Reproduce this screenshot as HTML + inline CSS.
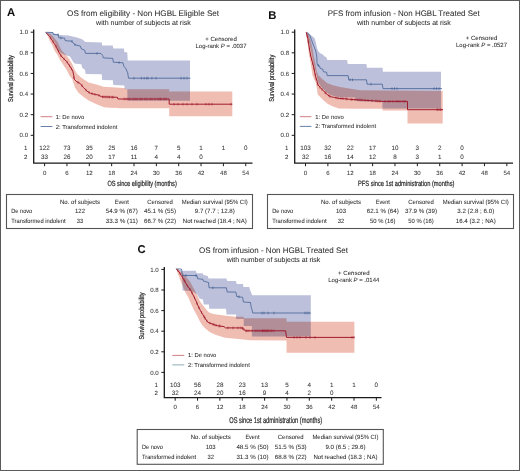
<!DOCTYPE html>
<html><head><meta charset="utf-8"><style>
html,body{margin:0;padding:0;background:#fff;}
body{width:520px;height:471px;overflow:hidden;}
svg{display:block;font-family:"Liberation Sans", sans-serif;text-rendering:geometricPrecision;}
</style></head><body>
<svg width="520" height="471" viewBox="0 0 520 471">
<rect x="0" y="0" width="520" height="471" fill="#fff"/>
<text x="6.90" y="15.60" font-size="11.3" text-anchor="start" font-weight="bold" fill="#111" stroke="#111" stroke-width="0.04" style="">A</text>
<text x="143.10" y="16.00" font-size="8.1" text-anchor="middle" font-weight="normal" fill="#2a2a2a" textLength="152" lengthAdjust="spacingAndGlyphs" stroke="#2a2a2a" stroke-width="0.04" style="">OS from eligibility - Non HGBL Eligible Set</text>
<text x="143.40" y="25.00" font-size="7.0" text-anchor="middle" font-weight="normal" fill="#2a2a2a" textLength="94.7" lengthAdjust="spacingAndGlyphs" stroke="#2a2a2a" stroke-width="0.04" style="">with number of subjects at risk</text>
<text x="221.00" y="40.90" font-size="6.1" text-anchor="middle" font-weight="normal" fill="#2a2a2a" textLength="31.6" lengthAdjust="spacingAndGlyphs" stroke="#2a2a2a" stroke-width="0.04" style="">+ Censored</text>
<text x="221.00" y="47.90" font-size="6.0" text-anchor="middle" font-weight="normal" fill="#2a2a2a" textLength="51" lengthAdjust="spacingAndGlyphs" stroke="#2a2a2a" stroke-width="0.04" style="">Log-rank <tspan font-style="italic">P</tspan> = .0037</text>
<g style="isolation:isolate">
<polygon points="45.60,32.30 52.90,32.30 53.40,33.30 60.00,35.10 68.50,35.50 72.70,36.40 77.00,37.60 82.10,39.30 85.50,41.90 101.80,42.60 102.20,45.60 112.80,45.60 113.30,48.60 123.90,48.60 124.30,52.00 127.30,52.40 127.70,60.50 190.00,60.50 190.00,100.80 127.50,100.80 127.30,89.20 124.70,88.80 124.30,85.40 113.30,85.00 112.80,80.30 102.20,79.90 101.80,74.30 85.60,73.90 85.10,69.90 82.20,67.70 81.30,64.30 74.50,63.50 72.00,60.10 70.00,56.50 65.20,55.00 61.00,53.00 57.70,49.90 54.70,42.20 50.00,36.00 45.60,32.30" fill="#bcc0da" style="mix-blend-mode:multiply"/>
<polygon points="45.90,32.50 50.40,33.80 53.60,37.00 57.70,42.20 61.30,49.90 64.00,53.00 66.00,55.00 69.40,59.20 72.00,63.50 74.50,69.40 77.10,73.70 80.50,77.10 83.90,79.60 88.70,82.60 95.50,84.30 99.70,85.60 103.50,86.70 123.90,87.90 127.30,89.20 169.20,89.20 169.20,91.40 232.30,91.40 232.30,116.20 169.20,116.20 169.20,108.20 119.00,108.20 119.00,107.90 110.00,107.70 104.00,107.30 99.70,105.60 93.80,103.00 88.70,100.50 83.60,97.10 78.50,92.80 75.10,87.70 73.00,81.80 72.30,79.00 69.40,75.40 66.90,70.30 63.50,65.20 60.10,60.10 57.50,55.00 54.50,50.50 52.90,46.60 50.40,42.10 47.80,36.40 45.90,32.50" fill="#f0bdb2" style="mix-blend-mode:multiply"/>
</g>
<polyline points="45.60,32.30 52.90,32.50 53.40,34.50 58.30,34.70 58.80,37.80 64.50,38.10 65.30,40.70 71.90,41.20 72.50,42.00 73.60,43.60 75.30,44.90 80.40,46.10 81.20,48.70 84.60,50.20 85.50,53.40 100.90,53.40 102.60,55.40 103.50,57.90 112.80,58.40 113.30,62.20 123.00,62.80 123.90,66.40 125.60,68.10 127.70,72.80 128.50,78.20 190.50,78.20" fill="none" stroke="#34558c" stroke-width="0.7"/>
<polyline points="45.90,32.50 49.50,36.40 52.50,40.80 54.50,44.00 56.50,47.50 57.70,50.00 59.20,52.50 60.50,55.00 62.00,57.00 63.50,58.40 66.90,61.80 70.30,66.90 72.80,71.10 73.70,75.40 74.20,79.20 76.80,81.80 80.20,83.50 83.60,87.70 87.00,91.10 90.40,93.30 95.50,94.50 98.40,95.10 101.80,96.80 117.50,97.30 117.90,99.00 169.20,99.00 169.20,104.20 232.30,104.20" fill="none" stroke="#a01a2e" stroke-width="1.0"/>
<line x1="141.30" y1="76.90" x2="141.30" y2="79.50" stroke="#34558c" stroke-width="0.6"/>
<line x1="144.20" y1="76.90" x2="144.20" y2="79.50" stroke="#34558c" stroke-width="0.6"/>
<line x1="146.70" y1="76.90" x2="146.70" y2="79.50" stroke="#34558c" stroke-width="0.6"/>
<line x1="151.90" y1="76.90" x2="151.90" y2="79.50" stroke="#34558c" stroke-width="0.6"/>
<line x1="181.00" y1="76.90" x2="181.00" y2="79.50" stroke="#34558c" stroke-width="0.6"/>
<line x1="184.00" y1="76.90" x2="184.00" y2="79.50" stroke="#34558c" stroke-width="0.6"/>
<line x1="187.00" y1="76.90" x2="187.00" y2="79.50" stroke="#34558c" stroke-width="0.6"/>
<line x1="97.00" y1="52.10" x2="97.00" y2="54.70" stroke="#34558c" stroke-width="0.6"/>
<line x1="58.00" y1="33.39" x2="58.00" y2="35.99" stroke="#34558c" stroke-width="0.6"/>
<line x1="75.00" y1="43.37" x2="75.00" y2="45.97" stroke="#34558c" stroke-width="0.6"/>
<line x1="119.00" y1="61.25" x2="119.00" y2="63.85" stroke="#34558c" stroke-width="0.6"/>
<line x1="104.00" y1="95.57" x2="104.00" y2="98.17" stroke="#a01a2e" stroke-width="0.6"/>
<line x1="108.00" y1="95.70" x2="108.00" y2="98.30" stroke="#a01a2e" stroke-width="0.6"/>
<line x1="112.00" y1="95.82" x2="112.00" y2="98.42" stroke="#a01a2e" stroke-width="0.6"/>
<line x1="124.00" y1="97.70" x2="124.00" y2="100.30" stroke="#a01a2e" stroke-width="0.6"/>
<line x1="130.00" y1="97.70" x2="130.00" y2="100.30" stroke="#a01a2e" stroke-width="0.6"/>
<line x1="140.00" y1="97.70" x2="140.00" y2="100.30" stroke="#a01a2e" stroke-width="0.6"/>
<line x1="145.00" y1="97.70" x2="145.00" y2="100.30" stroke="#a01a2e" stroke-width="0.6"/>
<line x1="150.00" y1="97.70" x2="150.00" y2="100.30" stroke="#a01a2e" stroke-width="0.6"/>
<line x1="155.00" y1="97.70" x2="155.00" y2="100.30" stroke="#a01a2e" stroke-width="0.6"/>
<line x1="160.00" y1="97.70" x2="160.00" y2="100.30" stroke="#a01a2e" stroke-width="0.6"/>
<line x1="164.00" y1="97.70" x2="164.00" y2="100.30" stroke="#a01a2e" stroke-width="0.6"/>
<line x1="183.00" y1="102.90" x2="183.00" y2="105.50" stroke="#a01a2e" stroke-width="0.6"/>
<line x1="187.00" y1="102.90" x2="187.00" y2="105.50" stroke="#a01a2e" stroke-width="0.6"/>
<line x1="192.00" y1="102.90" x2="192.00" y2="105.50" stroke="#a01a2e" stroke-width="0.6"/>
<line x1="197.00" y1="102.90" x2="197.00" y2="105.50" stroke="#a01a2e" stroke-width="0.6"/>
<line x1="231.00" y1="102.90" x2="231.00" y2="105.50" stroke="#a01a2e" stroke-width="0.6"/>
<line x1="50.50" y1="36.57" x2="50.50" y2="39.17" stroke="#a01a2e" stroke-width="0.6"/>
<line x1="53.00" y1="40.30" x2="53.00" y2="42.90" stroke="#a01a2e" stroke-width="0.6"/>
<line x1="56.00" y1="45.33" x2="56.00" y2="47.92" stroke="#a01a2e" stroke-width="0.6"/>
<line x1="58.50" y1="50.03" x2="58.50" y2="52.63" stroke="#a01a2e" stroke-width="0.6"/>
<line x1="61.00" y1="54.37" x2="61.00" y2="56.97" stroke="#a01a2e" stroke-width="0.6"/>
<line x1="64.00" y1="57.60" x2="64.00" y2="60.20" stroke="#a01a2e" stroke-width="0.6"/>
<line x1="67.00" y1="60.65" x2="67.00" y2="63.25" stroke="#a01a2e" stroke-width="0.6"/>
<line x1="69.50" y1="64.40" x2="69.50" y2="67.00" stroke="#a01a2e" stroke-width="0.6"/>
<line x1="71.50" y1="67.62" x2="71.50" y2="70.22" stroke="#a01a2e" stroke-width="0.6"/>
<line x1="74.00" y1="76.38" x2="74.00" y2="78.98" stroke="#a01a2e" stroke-width="0.6"/>
<line x1="78.00" y1="81.10" x2="78.00" y2="83.70" stroke="#a01a2e" stroke-width="0.6"/>
<line x1="82.00" y1="84.42" x2="82.00" y2="87.02" stroke="#a01a2e" stroke-width="0.6"/>
<line x1="86.00" y1="88.80" x2="86.00" y2="91.40" stroke="#a01a2e" stroke-width="0.6"/>
<line x1="89.00" y1="91.09" x2="89.00" y2="93.69" stroke="#a01a2e" stroke-width="0.6"/>
<line x1="92.00" y1="92.38" x2="92.00" y2="94.98" stroke="#a01a2e" stroke-width="0.6"/>
<line x1="95.00" y1="93.08" x2="95.00" y2="95.68" stroke="#a01a2e" stroke-width="0.6"/>
<line x1="99.00" y1="94.10" x2="99.00" y2="96.70" stroke="#a01a2e" stroke-width="0.6"/>
<line x1="102.50" y1="95.52" x2="102.50" y2="98.12" stroke="#a01a2e" stroke-width="0.6"/>
<line x1="106.00" y1="95.63" x2="106.00" y2="98.23" stroke="#a01a2e" stroke-width="0.6"/>
<line x1="109.50" y1="95.75" x2="109.50" y2="98.35" stroke="#a01a2e" stroke-width="0.6"/>
<line x1="113.00" y1="95.86" x2="113.00" y2="98.46" stroke="#a01a2e" stroke-width="0.6"/>
<line x1="126.00" y1="97.70" x2="126.00" y2="100.30" stroke="#a01a2e" stroke-width="0.6"/>
<line x1="128.00" y1="97.70" x2="128.00" y2="100.30" stroke="#a01a2e" stroke-width="0.6"/>
<line x1="133.00" y1="97.70" x2="133.00" y2="100.30" stroke="#a01a2e" stroke-width="0.6"/>
<line x1="135.00" y1="97.70" x2="135.00" y2="100.30" stroke="#a01a2e" stroke-width="0.6"/>
<line x1="137.00" y1="97.70" x2="137.00" y2="100.30" stroke="#a01a2e" stroke-width="0.6"/>
<line x1="142.00" y1="97.70" x2="142.00" y2="100.30" stroke="#a01a2e" stroke-width="0.6"/>
<line x1="147.00" y1="97.70" x2="147.00" y2="100.30" stroke="#a01a2e" stroke-width="0.6"/>
<line x1="152.00" y1="97.70" x2="152.00" y2="100.30" stroke="#a01a2e" stroke-width="0.6"/>
<line x1="158.00" y1="97.70" x2="158.00" y2="100.30" stroke="#a01a2e" stroke-width="0.6"/>
<line x1="161.00" y1="97.70" x2="161.00" y2="100.30" stroke="#a01a2e" stroke-width="0.6"/>
<line x1="166.00" y1="97.70" x2="166.00" y2="100.30" stroke="#a01a2e" stroke-width="0.6"/>
<line x1="174.00" y1="102.90" x2="174.00" y2="105.50" stroke="#a01a2e" stroke-width="0.6"/>
<line x1="178.00" y1="102.90" x2="178.00" y2="105.50" stroke="#a01a2e" stroke-width="0.6"/>
<line x1="206.00" y1="102.90" x2="206.00" y2="105.50" stroke="#a01a2e" stroke-width="0.6"/>
<line x1="209.00" y1="102.90" x2="209.00" y2="105.50" stroke="#a01a2e" stroke-width="0.6"/>
<line x1="212.00" y1="102.90" x2="212.00" y2="105.50" stroke="#a01a2e" stroke-width="0.6"/>
<line x1="61.00" y1="36.62" x2="61.00" y2="39.22" stroke="#34558c" stroke-width="0.6"/>
<line x1="72.00" y1="40.03" x2="72.00" y2="42.63" stroke="#34558c" stroke-width="0.6"/>
<line x1="134.00" y1="76.90" x2="134.00" y2="79.50" stroke="#34558c" stroke-width="0.6"/>
<line x1="148.00" y1="76.90" x2="148.00" y2="79.50" stroke="#34558c" stroke-width="0.6"/>
<line x1="156.00" y1="76.90" x2="156.00" y2="79.50" stroke="#34558c" stroke-width="0.6"/>
<path d="M33.70,29.50 V163.20 H252.50" fill="none" stroke="#1a1a1a" stroke-width="1.3"/>
<line x1="30.70" y1="32.20" x2="33.70" y2="32.20" stroke="#1a1a1a" stroke-width="1.0"/>
<text x="28.10" y="34.30" font-size="6.1" text-anchor="end" font-weight="normal" fill="#333" stroke="#333" stroke-width="0.04" style="">1.0</text>
<line x1="30.70" y1="52.82" x2="33.70" y2="52.82" stroke="#1a1a1a" stroke-width="1.0"/>
<text x="28.10" y="54.92" font-size="6.1" text-anchor="end" font-weight="normal" fill="#333" stroke="#333" stroke-width="0.04" style="">0.8</text>
<line x1="30.70" y1="73.44" x2="33.70" y2="73.44" stroke="#1a1a1a" stroke-width="1.0"/>
<text x="28.10" y="75.54" font-size="6.1" text-anchor="end" font-weight="normal" fill="#333" stroke="#333" stroke-width="0.04" style="">0.6</text>
<line x1="30.70" y1="94.06" x2="33.70" y2="94.06" stroke="#1a1a1a" stroke-width="1.0"/>
<text x="28.10" y="96.16" font-size="6.1" text-anchor="end" font-weight="normal" fill="#333" stroke="#333" stroke-width="0.04" style="">0.4</text>
<line x1="30.70" y1="114.68" x2="33.70" y2="114.68" stroke="#1a1a1a" stroke-width="1.0"/>
<text x="28.10" y="116.78" font-size="6.1" text-anchor="end" font-weight="normal" fill="#333" stroke="#333" stroke-width="0.04" style="">0.2</text>
<line x1="30.70" y1="135.30" x2="33.70" y2="135.30" stroke="#1a1a1a" stroke-width="1.0"/>
<text x="28.10" y="137.40" font-size="6.1" text-anchor="end" font-weight="normal" fill="#333" stroke="#333" stroke-width="0.04" style="">0.0</text>
<line x1="44.60" y1="163.20" x2="44.60" y2="166.20" stroke="#1a1a1a" stroke-width="1.0"/>
<text x="44.60" y="174.90" font-size="6.1" text-anchor="middle" font-weight="normal" fill="#333" stroke="#333" stroke-width="0.04" style="">0</text>
<line x1="66.95" y1="163.20" x2="66.95" y2="166.20" stroke="#1a1a1a" stroke-width="1.0"/>
<text x="66.95" y="174.90" font-size="6.1" text-anchor="middle" font-weight="normal" fill="#333" stroke="#333" stroke-width="0.04" style="">6</text>
<line x1="89.30" y1="163.20" x2="89.30" y2="166.20" stroke="#1a1a1a" stroke-width="1.0"/>
<text x="89.30" y="174.90" font-size="6.1" text-anchor="middle" font-weight="normal" fill="#333" stroke="#333" stroke-width="0.04" style="">12</text>
<line x1="111.65" y1="163.20" x2="111.65" y2="166.20" stroke="#1a1a1a" stroke-width="1.0"/>
<text x="111.65" y="174.90" font-size="6.1" text-anchor="middle" font-weight="normal" fill="#333" stroke="#333" stroke-width="0.04" style="">18</text>
<line x1="134.00" y1="163.20" x2="134.00" y2="166.20" stroke="#1a1a1a" stroke-width="1.0"/>
<text x="134.00" y="174.90" font-size="6.1" text-anchor="middle" font-weight="normal" fill="#333" stroke="#333" stroke-width="0.04" style="">24</text>
<line x1="156.35" y1="163.20" x2="156.35" y2="166.20" stroke="#1a1a1a" stroke-width="1.0"/>
<text x="156.35" y="174.90" font-size="6.1" text-anchor="middle" font-weight="normal" fill="#333" stroke="#333" stroke-width="0.04" style="">30</text>
<line x1="178.70" y1="163.20" x2="178.70" y2="166.20" stroke="#1a1a1a" stroke-width="1.0"/>
<text x="178.70" y="174.90" font-size="6.1" text-anchor="middle" font-weight="normal" fill="#333" stroke="#333" stroke-width="0.04" style="">36</text>
<line x1="201.05" y1="163.20" x2="201.05" y2="166.20" stroke="#1a1a1a" stroke-width="1.0"/>
<text x="201.05" y="174.90" font-size="6.1" text-anchor="middle" font-weight="normal" fill="#333" stroke="#333" stroke-width="0.04" style="">42</text>
<line x1="223.40" y1="163.20" x2="223.40" y2="166.20" stroke="#1a1a1a" stroke-width="1.0"/>
<text x="223.40" y="174.90" font-size="6.1" text-anchor="middle" font-weight="normal" fill="#333" stroke="#333" stroke-width="0.04" style="">48</text>
<line x1="245.75" y1="163.20" x2="245.75" y2="166.20" stroke="#1a1a1a" stroke-width="1.0"/>
<text x="245.75" y="174.90" font-size="6.1" text-anchor="middle" font-weight="normal" fill="#333" stroke="#333" stroke-width="0.04" style="">54</text>
<text x="142.10" y="186.20" font-size="7.6" text-anchor="middle" font-weight="normal" fill="#2a2a2a" textLength="69.4" lengthAdjust="spacingAndGlyphs" stroke="#2a2a2a" stroke-width="0.22" style="">OS since eligibility (months)</text>
<text x="0" y="0" font-size="7.2" text-anchor="middle" fill="#2a2a2a" stroke="#2a2a2a" stroke-width="0.22" textLength="47" lengthAdjust="spacingAndGlyphs" transform="translate(12.90,78.60) rotate(-90)">Survival probability</text>
<text x="25.70" y="149.80" font-size="6.1" text-anchor="middle" font-weight="normal" fill="#333" stroke="#333" stroke-width="0.04" style="">1</text>
<text x="44.60" y="149.80" font-size="6.3" text-anchor="middle" font-weight="normal" fill="#333" stroke="#333" stroke-width="0.04" style="">122</text>
<text x="66.95" y="149.80" font-size="6.3" text-anchor="middle" font-weight="normal" fill="#333" stroke="#333" stroke-width="0.04" style="">73</text>
<text x="89.30" y="149.80" font-size="6.3" text-anchor="middle" font-weight="normal" fill="#333" stroke="#333" stroke-width="0.04" style="">35</text>
<text x="111.65" y="149.80" font-size="6.3" text-anchor="middle" font-weight="normal" fill="#333" stroke="#333" stroke-width="0.04" style="">25</text>
<text x="134.00" y="149.80" font-size="6.3" text-anchor="middle" font-weight="normal" fill="#333" stroke="#333" stroke-width="0.04" style="">16</text>
<text x="156.35" y="149.80" font-size="6.3" text-anchor="middle" font-weight="normal" fill="#333" stroke="#333" stroke-width="0.04" style="">7</text>
<text x="178.70" y="149.80" font-size="6.3" text-anchor="middle" font-weight="normal" fill="#333" stroke="#333" stroke-width="0.04" style="">5</text>
<text x="201.05" y="149.80" font-size="6.3" text-anchor="middle" font-weight="normal" fill="#333" stroke="#333" stroke-width="0.04" style="">1</text>
<text x="223.40" y="149.80" font-size="6.3" text-anchor="middle" font-weight="normal" fill="#333" stroke="#333" stroke-width="0.04" style="">1</text>
<text x="245.75" y="149.80" font-size="6.3" text-anchor="middle" font-weight="normal" fill="#333" stroke="#333" stroke-width="0.04" style="">0</text>
<text x="25.70" y="159.10" font-size="6.1" text-anchor="middle" font-weight="normal" fill="#333" stroke="#333" stroke-width="0.04" style="">2</text>
<text x="44.60" y="159.10" font-size="6.3" text-anchor="middle" font-weight="normal" fill="#333" stroke="#333" stroke-width="0.04" style="">33</text>
<text x="66.95" y="159.10" font-size="6.3" text-anchor="middle" font-weight="normal" fill="#333" stroke="#333" stroke-width="0.04" style="">26</text>
<text x="89.30" y="159.10" font-size="6.3" text-anchor="middle" font-weight="normal" fill="#333" stroke="#333" stroke-width="0.04" style="">20</text>
<text x="111.65" y="159.10" font-size="6.3" text-anchor="middle" font-weight="normal" fill="#333" stroke="#333" stroke-width="0.04" style="">17</text>
<text x="134.00" y="159.10" font-size="6.3" text-anchor="middle" font-weight="normal" fill="#333" stroke="#333" stroke-width="0.04" style="">11</text>
<text x="156.35" y="159.10" font-size="6.3" text-anchor="middle" font-weight="normal" fill="#333" stroke="#333" stroke-width="0.04" style="">4</text>
<text x="178.70" y="159.10" font-size="6.3" text-anchor="middle" font-weight="normal" fill="#333" stroke="#333" stroke-width="0.04" style="">4</text>
<text x="201.05" y="159.10" font-size="6.3" text-anchor="middle" font-weight="normal" fill="#333" stroke="#333" stroke-width="0.04" style="">0</text>
<line x1="40.60" y1="116.70" x2="52.40" y2="116.70" stroke="#cc6f78" stroke-width="0.9"/>
<line x1="40.60" y1="126.50" x2="52.40" y2="126.50" stroke="#5672a0" stroke-width="0.9"/>
<text x="55.80" y="118.70" font-size="5.9" text-anchor="start" font-weight="normal" fill="#2a2a2a" stroke="#2a2a2a" stroke-width="0.04" style="">1: De novo</text>
<text x="55.80" y="128.50" font-size="5.9" text-anchor="start" font-weight="normal" fill="#2a2a2a" textLength="61.5" lengthAdjust="spacingAndGlyphs" stroke="#2a2a2a" stroke-width="0.04" style="">2: Transformed indolent</text>
<rect x="6.50" y="194.50" width="246.00" height="34.00" fill="none" stroke="#555" stroke-width="1.1"/>
<text x="80.00" y="204.10" font-size="6.2" text-anchor="middle" font-weight="normal" fill="#2a2a2a" textLength="40" lengthAdjust="spacingAndGlyphs" stroke="#2a2a2a" stroke-width="0.04" style="">No. of subjects</text>
<text x="121.75" y="204.10" font-size="6.2" text-anchor="middle" font-weight="normal" fill="#2a2a2a" textLength="14" lengthAdjust="spacingAndGlyphs" stroke="#2a2a2a" stroke-width="0.04" style="">Event</text>
<text x="160.00" y="204.10" font-size="6.2" text-anchor="middle" font-weight="normal" fill="#2a2a2a" textLength="25.7" lengthAdjust="spacingAndGlyphs" stroke="#2a2a2a" stroke-width="0.04" style="">Censored</text>
<text x="214.75" y="204.10" font-size="6.2" text-anchor="middle" font-weight="normal" fill="#2a2a2a" textLength="66" lengthAdjust="spacingAndGlyphs" stroke="#2a2a2a" stroke-width="0.04" style="">Median survival (95% CI)</text>
<text x="11.25" y="213.20" font-size="6.2" text-anchor="start" font-weight="normal" fill="#2a2a2a" textLength="21" lengthAdjust="spacingAndGlyphs" stroke="#2a2a2a" stroke-width="0.04" style="">De novo</text>
<text x="80.00" y="213.20" font-size="6.2" text-anchor="middle" font-weight="normal" fill="#2a2a2a" textLength="10" lengthAdjust="spacingAndGlyphs" stroke="#2a2a2a" stroke-width="0.04" style="">122</text>
<text x="121.75" y="213.20" font-size="6.2" text-anchor="middle" font-weight="normal" fill="#2a2a2a" textLength="32.1" lengthAdjust="spacingAndGlyphs" stroke="#2a2a2a" stroke-width="0.04" style="">54.9 % (67)</text>
<text x="160.00" y="213.20" font-size="6.2" text-anchor="middle" font-weight="normal" fill="#2a2a2a" textLength="32" lengthAdjust="spacingAndGlyphs" stroke="#2a2a2a" stroke-width="0.04" style="">45.1 % (55)</text>
<text x="214.75" y="213.20" font-size="6.2" text-anchor="middle" font-weight="normal" fill="#2a2a2a" textLength="40" lengthAdjust="spacingAndGlyphs" stroke="#2a2a2a" stroke-width="0.04" style="">9.7 (7.7 ; 12.8)</text>
<text x="11.25" y="223.00" font-size="6.2" text-anchor="start" font-weight="normal" fill="#2a2a2a" textLength="54.25" lengthAdjust="spacingAndGlyphs" stroke="#2a2a2a" stroke-width="0.04" style="">Transformed indolent</text>
<text x="80.00" y="223.00" font-size="6.2" text-anchor="middle" font-weight="normal" fill="#2a2a2a" textLength="6.5" lengthAdjust="spacingAndGlyphs" stroke="#2a2a2a" stroke-width="0.04" style="">33</text>
<text x="121.75" y="223.00" font-size="6.2" text-anchor="middle" font-weight="normal" fill="#2a2a2a" textLength="32.1" lengthAdjust="spacingAndGlyphs" stroke="#2a2a2a" stroke-width="0.04" style="">33.3 % (11)</text>
<text x="160.00" y="223.00" font-size="6.2" text-anchor="middle" font-weight="normal" fill="#2a2a2a" textLength="32" lengthAdjust="spacingAndGlyphs" stroke="#2a2a2a" stroke-width="0.04" style="">66.7 % (22)</text>
<text x="214.75" y="223.00" font-size="6.2" text-anchor="middle" font-weight="normal" fill="#2a2a2a" textLength="64" lengthAdjust="spacingAndGlyphs" stroke="#2a2a2a" stroke-width="0.04" style="">Not reached (18.4 ; NA)</text>
<text x="268.30" y="18.70" font-size="11.3" text-anchor="start" font-weight="bold" fill="#111" stroke="#111" stroke-width="0.04" style="">B</text>
<text x="403.70" y="16.00" font-size="8.1" text-anchor="middle" font-weight="normal" fill="#2a2a2a" textLength="151.9" lengthAdjust="spacingAndGlyphs" stroke="#2a2a2a" stroke-width="0.04" style="">PFS from infusion - Non HGBL Treated Set</text>
<text x="403.90" y="25.00" font-size="7.0" text-anchor="middle" font-weight="normal" fill="#2a2a2a" textLength="93.8" lengthAdjust="spacingAndGlyphs" stroke="#2a2a2a" stroke-width="0.04" style="">with number of subjects at risk</text>
<text x="481.50" y="40.20" font-size="6.1" text-anchor="middle" font-weight="normal" fill="#2a2a2a" textLength="31.6" lengthAdjust="spacingAndGlyphs" stroke="#2a2a2a" stroke-width="0.04" style="">+ Censored</text>
<text x="481.50" y="47.20" font-size="6.0" text-anchor="middle" font-weight="normal" fill="#2a2a2a" textLength="51" lengthAdjust="spacingAndGlyphs" stroke="#2a2a2a" stroke-width="0.04" style="">Log-rank <tspan font-style="italic">P</tspan> = .0527</text>
<g style="isolation:isolate">
<polygon points="306.60,32.30 307.50,32.30 311.30,35.40 314.50,37.90 315.70,41.70 317.00,48.10 318.30,51.30 320.20,53.20 322.70,54.50 324.70,56.40 326.60,57.60 327.20,60.00 347.10,60.00 347.80,64.10 366.30,64.10 367.00,67.80 382.50,67.80 383.00,71.80 441.00,71.80 441.00,108.40 382.50,108.40 382.30,102.00 356.00,101.00 355.00,97.60 340.10,97.20 333.60,96.10 329.20,94.30 325.60,91.40 322.00,88.00 318.00,82.00 316.50,75.00 315.00,69.00 313.50,62.70 312.00,56.00 310.80,50.00 309.50,44.00 308.00,38.00 306.60,32.30" fill="#bcc0da" style="mix-blend-mode:multiply"/>
<polygon points="306.20,32.20 308.50,33.50 310.50,40.00 312.00,46.00 312.80,50.00 313.80,56.40 315.20,62.70 316.20,68.00 317.00,72.00 318.50,75.50 322.00,78.70 327.00,83.00 333.00,85.20 340.00,87.00 346.00,88.10 360.00,90.20 442.70,91.10 442.70,123.40 407.50,123.40 407.50,110.60 382.50,110.60 382.50,108.80 356.00,108.80 339.00,108.50 333.00,106.40 327.90,103.90 323.70,100.50 320.30,97.10 317.70,94.50 316.90,88.60 315.60,82.50 314.50,80.00 312.60,75.50 311.30,67.80 310.00,59.60 309.00,55.00 308.40,50.00 307.60,44.00 306.80,38.00 306.20,32.20" fill="#f0bdb2" style="mix-blend-mode:multiply"/>
</g>
<polyline points="306.60,32.30 308.70,34.10 310.00,35.40 311.30,39.20 312.60,43.00 314.10,46.80 315.40,50.00 316.20,53.20 316.80,57.00 317.00,62.70 317.60,65.30 319.60,65.90 320.20,68.50 322.70,69.10 323.40,71.70 326.60,72.30 327.20,75.60 348.10,75.60 348.70,79.80 366.50,79.80 367.10,84.20 382.30,84.20 383.00,88.60 442.00,88.60" fill="none" stroke="#34558c" stroke-width="0.7"/>
<polyline points="306.20,32.20 307.80,38.60 308.80,44.90 309.80,51.00 310.80,56.00 311.80,60.00 312.60,62.70 313.80,67.80 315.10,74.20 316.20,79.00 316.90,80.50 317.70,84.30 320.30,87.70 323.70,91.10 327.10,94.50 330.50,96.70 334.70,97.50 339.00,98.40 345.00,98.80 350.40,99.40 370.00,100.60 382.00,101.40 407.50,101.40 407.50,109.70 443.00,109.70" fill="none" stroke="#a01a2e" stroke-width="1.0"/>
<line x1="326.00" y1="92.10" x2="326.00" y2="94.70" stroke="#a01a2e" stroke-width="0.6"/>
<line x1="330.00" y1="95.08" x2="330.00" y2="97.68" stroke="#a01a2e" stroke-width="0.6"/>
<line x1="338.00" y1="96.89" x2="338.00" y2="99.49" stroke="#a01a2e" stroke-width="0.6"/>
<line x1="346.00" y1="97.61" x2="346.00" y2="100.21" stroke="#a01a2e" stroke-width="0.6"/>
<line x1="352.00" y1="98.20" x2="352.00" y2="100.80" stroke="#a01a2e" stroke-width="0.6"/>
<line x1="355.00" y1="98.38" x2="355.00" y2="100.98" stroke="#a01a2e" stroke-width="0.6"/>
<line x1="360.00" y1="98.69" x2="360.00" y2="101.29" stroke="#a01a2e" stroke-width="0.6"/>
<line x1="372.00" y1="99.43" x2="372.00" y2="102.03" stroke="#a01a2e" stroke-width="0.6"/>
<line x1="376.00" y1="99.70" x2="376.00" y2="102.30" stroke="#a01a2e" stroke-width="0.6"/>
<line x1="393.00" y1="100.10" x2="393.00" y2="102.70" stroke="#a01a2e" stroke-width="0.6"/>
<line x1="396.00" y1="100.10" x2="396.00" y2="102.70" stroke="#a01a2e" stroke-width="0.6"/>
<line x1="400.00" y1="100.10" x2="400.00" y2="102.70" stroke="#a01a2e" stroke-width="0.6"/>
<line x1="438.00" y1="108.40" x2="438.00" y2="111.00" stroke="#a01a2e" stroke-width="0.6"/>
<line x1="441.00" y1="108.40" x2="441.00" y2="111.00" stroke="#a01a2e" stroke-width="0.6"/>
<line x1="307.20" y1="34.90" x2="307.20" y2="37.50" stroke="#a01a2e" stroke-width="0.6"/>
<line x1="308.30" y1="40.45" x2="308.30" y2="43.05" stroke="#a01a2e" stroke-width="0.6"/>
<line x1="309.50" y1="47.87" x2="309.50" y2="50.47" stroke="#a01a2e" stroke-width="0.6"/>
<line x1="310.60" y1="53.70" x2="310.60" y2="56.30" stroke="#a01a2e" stroke-width="0.6"/>
<line x1="311.60" y1="57.90" x2="311.60" y2="60.50" stroke="#a01a2e" stroke-width="0.6"/>
<line x1="312.80" y1="62.25" x2="312.80" y2="64.85" stroke="#a01a2e" stroke-width="0.6"/>
<line x1="314.00" y1="67.48" x2="314.00" y2="70.08" stroke="#a01a2e" stroke-width="0.6"/>
<line x1="315.20" y1="73.34" x2="315.20" y2="75.94" stroke="#a01a2e" stroke-width="0.6"/>
<line x1="316.30" y1="77.91" x2="316.30" y2="80.51" stroke="#a01a2e" stroke-width="0.6"/>
<line x1="318.00" y1="83.39" x2="318.00" y2="85.99" stroke="#a01a2e" stroke-width="0.6"/>
<line x1="320.00" y1="86.01" x2="320.00" y2="88.61" stroke="#a01a2e" stroke-width="0.6"/>
<line x1="322.00" y1="88.10" x2="322.00" y2="90.70" stroke="#a01a2e" stroke-width="0.6"/>
<line x1="325.00" y1="91.10" x2="325.00" y2="93.70" stroke="#a01a2e" stroke-width="0.6"/>
<line x1="329.00" y1="94.43" x2="329.00" y2="97.03" stroke="#a01a2e" stroke-width="0.6"/>
<line x1="336.00" y1="96.47" x2="336.00" y2="99.07" stroke="#a01a2e" stroke-width="0.6"/>
<line x1="341.00" y1="97.23" x2="341.00" y2="99.83" stroke="#a01a2e" stroke-width="0.6"/>
<line x1="343.00" y1="97.37" x2="343.00" y2="99.97" stroke="#a01a2e" stroke-width="0.6"/>
<line x1="347.00" y1="97.72" x2="347.00" y2="100.32" stroke="#a01a2e" stroke-width="0.6"/>
<line x1="351.00" y1="98.14" x2="351.00" y2="100.74" stroke="#a01a2e" stroke-width="0.6"/>
<line x1="358.00" y1="98.57" x2="358.00" y2="101.17" stroke="#a01a2e" stroke-width="0.6"/>
<line x1="362.00" y1="98.81" x2="362.00" y2="101.41" stroke="#a01a2e" stroke-width="0.6"/>
<line x1="365.00" y1="98.99" x2="365.00" y2="101.59" stroke="#a01a2e" stroke-width="0.6"/>
<line x1="368.00" y1="99.18" x2="368.00" y2="101.78" stroke="#a01a2e" stroke-width="0.6"/>
<line x1="378.00" y1="99.83" x2="378.00" y2="102.43" stroke="#a01a2e" stroke-width="0.6"/>
<line x1="380.00" y1="99.97" x2="380.00" y2="102.57" stroke="#a01a2e" stroke-width="0.6"/>
<line x1="385.00" y1="100.10" x2="385.00" y2="102.70" stroke="#a01a2e" stroke-width="0.6"/>
<line x1="388.00" y1="100.10" x2="388.00" y2="102.70" stroke="#a01a2e" stroke-width="0.6"/>
<line x1="390.00" y1="100.10" x2="390.00" y2="102.70" stroke="#a01a2e" stroke-width="0.6"/>
<line x1="398.00" y1="100.10" x2="398.00" y2="102.70" stroke="#a01a2e" stroke-width="0.6"/>
<line x1="403.00" y1="100.10" x2="403.00" y2="102.70" stroke="#a01a2e" stroke-width="0.6"/>
<line x1="405.00" y1="100.10" x2="405.00" y2="102.70" stroke="#a01a2e" stroke-width="0.6"/>
<line x1="437.00" y1="108.40" x2="437.00" y2="111.00" stroke="#a01a2e" stroke-width="0.6"/>
<line x1="440.00" y1="108.40" x2="440.00" y2="111.00" stroke="#a01a2e" stroke-width="0.6"/>
<line x1="318.50" y1="64.27" x2="318.50" y2="66.87" stroke="#34558c" stroke-width="0.6"/>
<line x1="350.00" y1="78.50" x2="350.00" y2="81.10" stroke="#34558c" stroke-width="0.6"/>
<line x1="352.50" y1="78.50" x2="352.50" y2="81.10" stroke="#34558c" stroke-width="0.6"/>
<line x1="371.00" y1="82.90" x2="371.00" y2="85.50" stroke="#34558c" stroke-width="0.6"/>
<line x1="392.00" y1="87.30" x2="392.00" y2="89.90" stroke="#34558c" stroke-width="0.6"/>
<line x1="394.50" y1="87.30" x2="394.50" y2="89.90" stroke="#34558c" stroke-width="0.6"/>
<line x1="397.00" y1="87.30" x2="397.00" y2="89.90" stroke="#34558c" stroke-width="0.6"/>
<line x1="434.00" y1="87.30" x2="434.00" y2="89.90" stroke="#34558c" stroke-width="0.6"/>
<line x1="436.50" y1="87.30" x2="436.50" y2="89.90" stroke="#34558c" stroke-width="0.6"/>
<line x1="439.00" y1="87.30" x2="439.00" y2="89.90" stroke="#34558c" stroke-width="0.6"/>
<path d="M294.70,29.50 V163.20 H513.00" fill="none" stroke="#1a1a1a" stroke-width="1.3"/>
<line x1="291.70" y1="32.20" x2="294.70" y2="32.20" stroke="#1a1a1a" stroke-width="1.0"/>
<text x="289.10" y="34.30" font-size="6.1" text-anchor="end" font-weight="normal" fill="#333" stroke="#333" stroke-width="0.04" style="">1.0</text>
<line x1="291.70" y1="52.82" x2="294.70" y2="52.82" stroke="#1a1a1a" stroke-width="1.0"/>
<text x="289.10" y="54.92" font-size="6.1" text-anchor="end" font-weight="normal" fill="#333" stroke="#333" stroke-width="0.04" style="">0.8</text>
<line x1="291.70" y1="73.44" x2="294.70" y2="73.44" stroke="#1a1a1a" stroke-width="1.0"/>
<text x="289.10" y="75.54" font-size="6.1" text-anchor="end" font-weight="normal" fill="#333" stroke="#333" stroke-width="0.04" style="">0.6</text>
<line x1="291.70" y1="94.06" x2="294.70" y2="94.06" stroke="#1a1a1a" stroke-width="1.0"/>
<text x="289.10" y="96.16" font-size="6.1" text-anchor="end" font-weight="normal" fill="#333" stroke="#333" stroke-width="0.04" style="">0.4</text>
<line x1="291.70" y1="114.68" x2="294.70" y2="114.68" stroke="#1a1a1a" stroke-width="1.0"/>
<text x="289.10" y="116.78" font-size="6.1" text-anchor="end" font-weight="normal" fill="#333" stroke="#333" stroke-width="0.04" style="">0.2</text>
<line x1="291.70" y1="135.30" x2="294.70" y2="135.30" stroke="#1a1a1a" stroke-width="1.0"/>
<text x="289.10" y="137.40" font-size="6.1" text-anchor="end" font-weight="normal" fill="#333" stroke="#333" stroke-width="0.04" style="">0.0</text>
<line x1="305.50" y1="163.20" x2="305.50" y2="166.20" stroke="#1a1a1a" stroke-width="1.0"/>
<text x="305.50" y="174.90" font-size="6.1" text-anchor="middle" font-weight="normal" fill="#333" stroke="#333" stroke-width="0.04" style="">0</text>
<line x1="327.87" y1="163.20" x2="327.87" y2="166.20" stroke="#1a1a1a" stroke-width="1.0"/>
<text x="327.87" y="174.90" font-size="6.1" text-anchor="middle" font-weight="normal" fill="#333" stroke="#333" stroke-width="0.04" style="">6</text>
<line x1="350.24" y1="163.20" x2="350.24" y2="166.20" stroke="#1a1a1a" stroke-width="1.0"/>
<text x="350.24" y="174.90" font-size="6.1" text-anchor="middle" font-weight="normal" fill="#333" stroke="#333" stroke-width="0.04" style="">12</text>
<line x1="372.61" y1="163.20" x2="372.61" y2="166.20" stroke="#1a1a1a" stroke-width="1.0"/>
<text x="372.61" y="174.90" font-size="6.1" text-anchor="middle" font-weight="normal" fill="#333" stroke="#333" stroke-width="0.04" style="">18</text>
<line x1="394.98" y1="163.20" x2="394.98" y2="166.20" stroke="#1a1a1a" stroke-width="1.0"/>
<text x="394.98" y="174.90" font-size="6.1" text-anchor="middle" font-weight="normal" fill="#333" stroke="#333" stroke-width="0.04" style="">24</text>
<line x1="417.35" y1="163.20" x2="417.35" y2="166.20" stroke="#1a1a1a" stroke-width="1.0"/>
<text x="417.35" y="174.90" font-size="6.1" text-anchor="middle" font-weight="normal" fill="#333" stroke="#333" stroke-width="0.04" style="">30</text>
<line x1="439.72" y1="163.20" x2="439.72" y2="166.20" stroke="#1a1a1a" stroke-width="1.0"/>
<text x="439.72" y="174.90" font-size="6.1" text-anchor="middle" font-weight="normal" fill="#333" stroke="#333" stroke-width="0.04" style="">36</text>
<line x1="462.09" y1="163.20" x2="462.09" y2="166.20" stroke="#1a1a1a" stroke-width="1.0"/>
<text x="462.09" y="174.90" font-size="6.1" text-anchor="middle" font-weight="normal" fill="#333" stroke="#333" stroke-width="0.04" style="">42</text>
<line x1="484.46" y1="163.20" x2="484.46" y2="166.20" stroke="#1a1a1a" stroke-width="1.0"/>
<text x="484.46" y="174.90" font-size="6.1" text-anchor="middle" font-weight="normal" fill="#333" stroke="#333" stroke-width="0.04" style="">48</text>
<line x1="506.83" y1="163.20" x2="506.83" y2="166.20" stroke="#1a1a1a" stroke-width="1.0"/>
<text x="506.83" y="174.90" font-size="6.1" text-anchor="middle" font-weight="normal" fill="#333" stroke="#333" stroke-width="0.04" style="">54</text>
<text x="406.20" y="186.10" font-size="7.6" text-anchor="middle" font-weight="normal" fill="#2a2a2a" textLength="96.5" lengthAdjust="spacingAndGlyphs" stroke="#2a2a2a" stroke-width="0.22" style="">PFS since 1st administration (months)</text>
<text x="0" y="0" font-size="7.2" text-anchor="middle" fill="#2a2a2a" stroke="#2a2a2a" stroke-width="0.22" textLength="47" lengthAdjust="spacingAndGlyphs" transform="translate(274.10,78.30) rotate(-90)">Survival probability</text>
<text x="286.70" y="149.70" font-size="6.1" text-anchor="middle" font-weight="normal" fill="#333" stroke="#333" stroke-width="0.04" style="">1</text>
<text x="305.50" y="149.70" font-size="6.3" text-anchor="middle" font-weight="normal" fill="#333" stroke="#333" stroke-width="0.04" style="">103</text>
<text x="327.87" y="149.70" font-size="6.3" text-anchor="middle" font-weight="normal" fill="#333" stroke="#333" stroke-width="0.04" style="">32</text>
<text x="350.24" y="149.70" font-size="6.3" text-anchor="middle" font-weight="normal" fill="#333" stroke="#333" stroke-width="0.04" style="">22</text>
<text x="372.61" y="149.70" font-size="6.3" text-anchor="middle" font-weight="normal" fill="#333" stroke="#333" stroke-width="0.04" style="">17</text>
<text x="394.98" y="149.70" font-size="6.3" text-anchor="middle" font-weight="normal" fill="#333" stroke="#333" stroke-width="0.04" style="">10</text>
<text x="417.35" y="149.70" font-size="6.3" text-anchor="middle" font-weight="normal" fill="#333" stroke="#333" stroke-width="0.04" style="">3</text>
<text x="439.72" y="149.70" font-size="6.3" text-anchor="middle" font-weight="normal" fill="#333" stroke="#333" stroke-width="0.04" style="">2</text>
<text x="462.09" y="149.70" font-size="6.3" text-anchor="middle" font-weight="normal" fill="#333" stroke="#333" stroke-width="0.04" style="">0</text>
<text x="286.70" y="159.00" font-size="6.1" text-anchor="middle" font-weight="normal" fill="#333" stroke="#333" stroke-width="0.04" style="">2</text>
<text x="305.50" y="159.00" font-size="6.3" text-anchor="middle" font-weight="normal" fill="#333" stroke="#333" stroke-width="0.04" style="">32</text>
<text x="327.87" y="159.00" font-size="6.3" text-anchor="middle" font-weight="normal" fill="#333" stroke="#333" stroke-width="0.04" style="">16</text>
<text x="350.24" y="159.00" font-size="6.3" text-anchor="middle" font-weight="normal" fill="#333" stroke="#333" stroke-width="0.04" style="">14</text>
<text x="372.61" y="159.00" font-size="6.3" text-anchor="middle" font-weight="normal" fill="#333" stroke="#333" stroke-width="0.04" style="">12</text>
<text x="394.98" y="159.00" font-size="6.3" text-anchor="middle" font-weight="normal" fill="#333" stroke="#333" stroke-width="0.04" style="">8</text>
<text x="417.35" y="159.00" font-size="6.3" text-anchor="middle" font-weight="normal" fill="#333" stroke="#333" stroke-width="0.04" style="">3</text>
<text x="439.72" y="159.00" font-size="6.3" text-anchor="middle" font-weight="normal" fill="#333" stroke="#333" stroke-width="0.04" style="">1</text>
<text x="462.09" y="159.00" font-size="6.3" text-anchor="middle" font-weight="normal" fill="#333" stroke="#333" stroke-width="0.04" style="">0</text>
<line x1="299.80" y1="116.70" x2="311.40" y2="116.70" stroke="#cc6f78" stroke-width="0.9"/>
<line x1="299.80" y1="126.40" x2="311.40" y2="126.40" stroke="#5672a0" stroke-width="0.9"/>
<text x="315.20" y="118.70" font-size="5.9" text-anchor="start" font-weight="normal" fill="#2a2a2a" stroke="#2a2a2a" stroke-width="0.04" style="">1: De novo</text>
<text x="315.20" y="128.40" font-size="5.9" text-anchor="start" font-weight="normal" fill="#2a2a2a" textLength="60.8" lengthAdjust="spacingAndGlyphs" stroke="#2a2a2a" stroke-width="0.04" style="">2: Transformed indolent</text>
<rect x="267.50" y="194.50" width="246.00" height="34.00" fill="none" stroke="#555" stroke-width="1.1"/>
<text x="341.00" y="204.10" font-size="6.2" text-anchor="middle" font-weight="normal" fill="#2a2a2a" textLength="40" lengthAdjust="spacingAndGlyphs" stroke="#2a2a2a" stroke-width="0.04" style="">No. of subjects</text>
<text x="382.75" y="204.10" font-size="6.2" text-anchor="middle" font-weight="normal" fill="#2a2a2a" textLength="14" lengthAdjust="spacingAndGlyphs" stroke="#2a2a2a" stroke-width="0.04" style="">Event</text>
<text x="421.00" y="204.10" font-size="6.2" text-anchor="middle" font-weight="normal" fill="#2a2a2a" textLength="25.7" lengthAdjust="spacingAndGlyphs" stroke="#2a2a2a" stroke-width="0.04" style="">Censored</text>
<text x="475.75" y="204.10" font-size="6.2" text-anchor="middle" font-weight="normal" fill="#2a2a2a" textLength="66" lengthAdjust="spacingAndGlyphs" stroke="#2a2a2a" stroke-width="0.04" style="">Median survival (95% CI)</text>
<text x="272.25" y="213.20" font-size="6.2" text-anchor="start" font-weight="normal" fill="#2a2a2a" textLength="21" lengthAdjust="spacingAndGlyphs" stroke="#2a2a2a" stroke-width="0.04" style="">De novo</text>
<text x="341.00" y="213.20" font-size="6.2" text-anchor="middle" font-weight="normal" fill="#2a2a2a" textLength="10" lengthAdjust="spacingAndGlyphs" stroke="#2a2a2a" stroke-width="0.04" style="">103</text>
<text x="382.75" y="213.20" font-size="6.2" text-anchor="middle" font-weight="normal" fill="#2a2a2a" textLength="32.1" lengthAdjust="spacingAndGlyphs" stroke="#2a2a2a" stroke-width="0.04" style="">62.1 % (64)</text>
<text x="421.00" y="213.20" font-size="6.2" text-anchor="middle" font-weight="normal" fill="#2a2a2a" textLength="32" lengthAdjust="spacingAndGlyphs" stroke="#2a2a2a" stroke-width="0.04" style="">37.9 % (39)</text>
<text x="475.75" y="213.20" font-size="6.2" text-anchor="middle" font-weight="normal" fill="#2a2a2a" textLength="37" lengthAdjust="spacingAndGlyphs" stroke="#2a2a2a" stroke-width="0.04" style="">3.2 (2.8 ; 6.0)</text>
<text x="272.25" y="223.00" font-size="6.2" text-anchor="start" font-weight="normal" fill="#2a2a2a" textLength="54.25" lengthAdjust="spacingAndGlyphs" stroke="#2a2a2a" stroke-width="0.04" style="">Transformed indolent</text>
<text x="341.00" y="223.00" font-size="6.2" text-anchor="middle" font-weight="normal" fill="#2a2a2a" textLength="6.5" lengthAdjust="spacingAndGlyphs" stroke="#2a2a2a" stroke-width="0.04" style="">32</text>
<text x="382.75" y="223.00" font-size="6.2" text-anchor="middle" font-weight="normal" fill="#2a2a2a" textLength="25.5" lengthAdjust="spacingAndGlyphs" stroke="#2a2a2a" stroke-width="0.04" style="">50 % (16)</text>
<text x="421.00" y="223.00" font-size="6.2" text-anchor="middle" font-weight="normal" fill="#2a2a2a" textLength="25.5" lengthAdjust="spacingAndGlyphs" stroke="#2a2a2a" stroke-width="0.04" style="">50 % (16)</text>
<text x="475.75" y="223.00" font-size="6.2" text-anchor="middle" font-weight="normal" fill="#2a2a2a" textLength="40" lengthAdjust="spacingAndGlyphs" stroke="#2a2a2a" stroke-width="0.04" style="">16.4 (3.2 ; NA)</text>
<text x="137.60" y="253.30" font-size="11.3" text-anchor="start" font-weight="bold" fill="#111" stroke="#111" stroke-width="0.04" style="">C</text>
<text x="273.50" y="253.40" font-size="8.1" text-anchor="middle" font-weight="normal" fill="#2a2a2a" textLength="148.9" lengthAdjust="spacingAndGlyphs" stroke="#2a2a2a" stroke-width="0.04" style="">OS from infusion - Non HGBL Treated Set</text>
<text x="273.50" y="262.20" font-size="7.0" text-anchor="middle" font-weight="normal" fill="#2a2a2a" textLength="93.5" lengthAdjust="spacingAndGlyphs" stroke="#2a2a2a" stroke-width="0.04" style="">with number of subjects at risk</text>
<text x="353.80" y="274.70" font-size="6.1" text-anchor="middle" font-weight="normal" fill="#2a2a2a" textLength="31.6" lengthAdjust="spacingAndGlyphs" stroke="#2a2a2a" stroke-width="0.04" style="">+ Censored</text>
<text x="353.80" y="281.70" font-size="6.0" text-anchor="middle" font-weight="normal" fill="#2a2a2a" textLength="51" lengthAdjust="spacingAndGlyphs" stroke="#2a2a2a" stroke-width="0.04" style="">Log-rank <tspan font-style="italic">P</tspan> = .0144</text>
<g style="isolation:isolate">
<polygon points="176.80,269.10 182.20,270.80 195.80,270.80 196.60,273.30 202.60,273.30 203.40,275.00 207.70,275.90 208.50,278.40 226.40,278.40 227.20,281.00 235.90,281.00 236.70,283.90 243.00,283.90 243.40,286.90 249.30,286.90 250.00,290.00 252.30,295.20 310.80,295.20 310.80,336.50 251.90,336.50 251.90,326.00 243.75,326.00 243.75,318.90 236.10,318.90 236.10,314.40 226.50,314.40 226.00,308.80 209.30,308.80 208.90,304.60 203.80,304.50 202.90,299.40 199.50,298.60 197.00,294.30 193.60,292.00 191.00,290.90 182.50,290.50 182.20,275.90 181.00,272.00 176.20,268.80" fill="#bcc0da" style="mix-blend-mode:multiply"/>
<polygon points="176.20,268.80 178.00,269.50 181.30,272.00 183.60,273.90 186.70,277.70 189.90,281.60 192.60,286.50 194.80,290.50 197.00,295.00 200.40,302.00 203.80,306.50 205.50,308.50 207.50,311.00 210.00,313.00 215.00,314.30 226.00,315.70 236.00,316.80 243.75,316.80 243.75,318.30 286.50,318.30 286.50,321.70 354.40,321.70 354.40,352.70 286.50,352.70 286.50,340.50 250.00,340.30 238.50,339.10 225.00,337.70 215.40,334.80 209.60,331.90 204.80,328.10 202.10,325.00 199.50,320.70 197.00,315.60 193.60,309.60 191.00,303.70 188.50,297.70 185.10,291.80 182.50,285.00 181.00,282.00 179.50,278.00 178.00,274.00 176.20,268.80" fill="#f0bdb2" style="mix-blend-mode:multiply"/>
</g>
<polyline points="176.20,268.80 181.60,269.10 182.30,275.50 196.90,275.50 197.60,278.70 202.90,279.30 203.40,281.00 208.50,282.50 209.10,287.80 226.40,287.80 227.20,292.00 235.90,292.10 236.70,296.50 242.60,297.30 243.40,302.00 250.50,302.50 250.90,305.70 251.90,309.60 252.80,313.00 310.80,313.00" fill="none" stroke="#34558c" stroke-width="0.7"/>
<polyline points="176.20,268.80 179.10,272.00 181.30,275.50 183.50,279.00 185.50,282.50 186.80,285.00 189.00,288.00 191.00,290.90 193.60,296.00 196.10,301.10 197.80,305.40 200.40,310.50 202.90,314.70 205.50,319.00 208.00,322.40 211.00,323.50 213.50,324.50 217.30,325.70 224.00,326.60 225.50,327.90 241.30,327.90 243.00,328.40 245.20,330.80 285.60,330.80 286.50,337.40 354.40,337.40" fill="none" stroke="#a01a2e" stroke-width="1.0"/>
<line x1="184.00" y1="278.57" x2="184.00" y2="281.18" stroke="#a01a2e" stroke-width="0.6"/>
<line x1="205.00" y1="316.87" x2="205.00" y2="319.47" stroke="#a01a2e" stroke-width="0.6"/>
<line x1="213.00" y1="323.00" x2="213.00" y2="325.60" stroke="#a01a2e" stroke-width="0.6"/>
<line x1="219.00" y1="324.63" x2="219.00" y2="327.23" stroke="#a01a2e" stroke-width="0.6"/>
<line x1="243.00" y1="327.10" x2="243.00" y2="329.70" stroke="#a01a2e" stroke-width="0.6"/>
<line x1="246.00" y1="329.50" x2="246.00" y2="332.10" stroke="#a01a2e" stroke-width="0.6"/>
<line x1="252.00" y1="329.50" x2="252.00" y2="332.10" stroke="#a01a2e" stroke-width="0.6"/>
<line x1="263.00" y1="329.50" x2="263.00" y2="332.10" stroke="#a01a2e" stroke-width="0.6"/>
<line x1="265.00" y1="329.50" x2="265.00" y2="332.10" stroke="#a01a2e" stroke-width="0.6"/>
<line x1="267.00" y1="329.50" x2="267.00" y2="332.10" stroke="#a01a2e" stroke-width="0.6"/>
<line x1="269.00" y1="329.50" x2="269.00" y2="332.10" stroke="#a01a2e" stroke-width="0.6"/>
<line x1="272.00" y1="329.50" x2="272.00" y2="332.10" stroke="#a01a2e" stroke-width="0.6"/>
<line x1="306.00" y1="336.10" x2="306.00" y2="338.70" stroke="#a01a2e" stroke-width="0.6"/>
<line x1="310.00" y1="336.10" x2="310.00" y2="338.70" stroke="#a01a2e" stroke-width="0.6"/>
<line x1="315.00" y1="336.10" x2="315.00" y2="338.70" stroke="#a01a2e" stroke-width="0.6"/>
<line x1="354.00" y1="336.10" x2="354.00" y2="338.70" stroke="#a01a2e" stroke-width="0.6"/>
<line x1="178.00" y1="269.49" x2="178.00" y2="272.09" stroke="#a01a2e" stroke-width="0.6"/>
<line x1="180.00" y1="272.13" x2="180.00" y2="274.73" stroke="#a01a2e" stroke-width="0.6"/>
<line x1="182.50" y1="276.11" x2="182.50" y2="278.71" stroke="#a01a2e" stroke-width="0.6"/>
<line x1="185.00" y1="280.32" x2="185.00" y2="282.93" stroke="#a01a2e" stroke-width="0.6"/>
<line x1="187.50" y1="284.65" x2="187.50" y2="287.25" stroke="#a01a2e" stroke-width="0.6"/>
<line x1="190.00" y1="288.15" x2="190.00" y2="290.75" stroke="#a01a2e" stroke-width="0.6"/>
<line x1="192.00" y1="291.56" x2="192.00" y2="294.16" stroke="#a01a2e" stroke-width="0.6"/>
<line x1="194.50" y1="296.54" x2="194.50" y2="299.14" stroke="#a01a2e" stroke-width="0.6"/>
<line x1="197.00" y1="302.08" x2="197.00" y2="304.68" stroke="#a01a2e" stroke-width="0.6"/>
<line x1="199.00" y1="306.45" x2="199.00" y2="309.05" stroke="#a01a2e" stroke-width="0.6"/>
<line x1="201.50" y1="311.05" x2="201.50" y2="313.65" stroke="#a01a2e" stroke-width="0.6"/>
<line x1="204.00" y1="315.22" x2="204.00" y2="317.82" stroke="#a01a2e" stroke-width="0.6"/>
<line x1="207.00" y1="319.74" x2="207.00" y2="322.34" stroke="#a01a2e" stroke-width="0.6"/>
<line x1="210.00" y1="321.83" x2="210.00" y2="324.43" stroke="#a01a2e" stroke-width="0.6"/>
<line x1="214.00" y1="323.36" x2="214.00" y2="325.96" stroke="#a01a2e" stroke-width="0.6"/>
<line x1="216.00" y1="323.99" x2="216.00" y2="326.59" stroke="#a01a2e" stroke-width="0.6"/>
<line x1="220.00" y1="324.76" x2="220.00" y2="327.36" stroke="#a01a2e" stroke-width="0.6"/>
<line x1="228.00" y1="326.60" x2="228.00" y2="329.20" stroke="#a01a2e" stroke-width="0.6"/>
<line x1="233.00" y1="326.60" x2="233.00" y2="329.20" stroke="#a01a2e" stroke-width="0.6"/>
<line x1="238.00" y1="326.60" x2="238.00" y2="329.20" stroke="#a01a2e" stroke-width="0.6"/>
<line x1="241.00" y1="326.60" x2="241.00" y2="329.20" stroke="#a01a2e" stroke-width="0.6"/>
<line x1="242.50" y1="326.95" x2="242.50" y2="329.55" stroke="#a01a2e" stroke-width="0.6"/>
<line x1="244.00" y1="328.19" x2="244.00" y2="330.79" stroke="#a01a2e" stroke-width="0.6"/>
<line x1="247.00" y1="329.50" x2="247.00" y2="332.10" stroke="#a01a2e" stroke-width="0.6"/>
<line x1="249.00" y1="329.50" x2="249.00" y2="332.10" stroke="#a01a2e" stroke-width="0.6"/>
<line x1="255.00" y1="329.50" x2="255.00" y2="332.10" stroke="#a01a2e" stroke-width="0.6"/>
<line x1="257.00" y1="329.50" x2="257.00" y2="332.10" stroke="#a01a2e" stroke-width="0.6"/>
<line x1="259.00" y1="329.50" x2="259.00" y2="332.10" stroke="#a01a2e" stroke-width="0.6"/>
<line x1="261.00" y1="329.50" x2="261.00" y2="332.10" stroke="#a01a2e" stroke-width="0.6"/>
<line x1="262.50" y1="329.50" x2="262.50" y2="332.10" stroke="#a01a2e" stroke-width="0.6"/>
<line x1="264.00" y1="329.50" x2="264.00" y2="332.10" stroke="#a01a2e" stroke-width="0.6"/>
<line x1="266.00" y1="329.50" x2="266.00" y2="332.10" stroke="#a01a2e" stroke-width="0.6"/>
<line x1="268.00" y1="329.50" x2="268.00" y2="332.10" stroke="#a01a2e" stroke-width="0.6"/>
<line x1="271.00" y1="329.50" x2="271.00" y2="332.10" stroke="#a01a2e" stroke-width="0.6"/>
<line x1="274.00" y1="329.50" x2="274.00" y2="332.10" stroke="#a01a2e" stroke-width="0.6"/>
<line x1="294.00" y1="336.10" x2="294.00" y2="338.70" stroke="#a01a2e" stroke-width="0.6"/>
<line x1="297.00" y1="336.10" x2="297.00" y2="338.70" stroke="#a01a2e" stroke-width="0.6"/>
<line x1="300.00" y1="336.10" x2="300.00" y2="338.70" stroke="#a01a2e" stroke-width="0.6"/>
<line x1="352.00" y1="336.10" x2="352.00" y2="338.70" stroke="#a01a2e" stroke-width="0.6"/>
<line x1="186.00" y1="274.20" x2="186.00" y2="276.80" stroke="#34558c" stroke-width="0.6"/>
<line x1="196.00" y1="274.20" x2="196.00" y2="276.80" stroke="#34558c" stroke-width="0.6"/>
<line x1="213.00" y1="286.50" x2="213.00" y2="289.10" stroke="#34558c" stroke-width="0.6"/>
<line x1="239.00" y1="295.51" x2="239.00" y2="298.11" stroke="#34558c" stroke-width="0.6"/>
<line x1="262.00" y1="311.70" x2="262.00" y2="314.30" stroke="#34558c" stroke-width="0.6"/>
<line x1="264.00" y1="311.70" x2="264.00" y2="314.30" stroke="#34558c" stroke-width="0.6"/>
<line x1="268.00" y1="311.70" x2="268.00" y2="314.30" stroke="#34558c" stroke-width="0.6"/>
<line x1="274.00" y1="311.70" x2="274.00" y2="314.30" stroke="#34558c" stroke-width="0.6"/>
<line x1="305.00" y1="311.70" x2="305.00" y2="314.30" stroke="#34558c" stroke-width="0.6"/>
<line x1="307.00" y1="311.70" x2="307.00" y2="314.30" stroke="#34558c" stroke-width="0.6"/>
<line x1="309.00" y1="311.70" x2="309.00" y2="314.30" stroke="#34558c" stroke-width="0.6"/>
<path d="M164.30,267.00 V397.70 H381.50" fill="none" stroke="#1a1a1a" stroke-width="1.3"/>
<line x1="161.30" y1="269.40" x2="164.30" y2="269.40" stroke="#1a1a1a" stroke-width="1.0"/>
<text x="158.70" y="271.50" font-size="6.1" text-anchor="end" font-weight="normal" fill="#333" stroke="#333" stroke-width="0.04" style="">1.0</text>
<line x1="161.30" y1="290.00" x2="164.30" y2="290.00" stroke="#1a1a1a" stroke-width="1.0"/>
<text x="158.70" y="292.10" font-size="6.1" text-anchor="end" font-weight="normal" fill="#333" stroke="#333" stroke-width="0.04" style="">0.8</text>
<line x1="161.30" y1="310.60" x2="164.30" y2="310.60" stroke="#1a1a1a" stroke-width="1.0"/>
<text x="158.70" y="312.70" font-size="6.1" text-anchor="end" font-weight="normal" fill="#333" stroke="#333" stroke-width="0.04" style="">0.6</text>
<line x1="161.30" y1="331.20" x2="164.30" y2="331.20" stroke="#1a1a1a" stroke-width="1.0"/>
<text x="158.70" y="333.30" font-size="6.1" text-anchor="end" font-weight="normal" fill="#333" stroke="#333" stroke-width="0.04" style="">0.4</text>
<line x1="161.30" y1="351.80" x2="164.30" y2="351.80" stroke="#1a1a1a" stroke-width="1.0"/>
<text x="158.70" y="353.90" font-size="6.1" text-anchor="end" font-weight="normal" fill="#333" stroke="#333" stroke-width="0.04" style="">0.2</text>
<line x1="161.30" y1="372.40" x2="164.30" y2="372.40" stroke="#1a1a1a" stroke-width="1.0"/>
<text x="158.70" y="374.50" font-size="6.1" text-anchor="end" font-weight="normal" fill="#333" stroke="#333" stroke-width="0.04" style="">0.0</text>
<line x1="175.20" y1="397.70" x2="175.20" y2="400.70" stroke="#1a1a1a" stroke-width="1.0"/>
<text x="175.20" y="408.90" font-size="6.1" text-anchor="middle" font-weight="normal" fill="#333" stroke="#333" stroke-width="0.04" style="">0</text>
<line x1="197.55" y1="397.70" x2="197.55" y2="400.70" stroke="#1a1a1a" stroke-width="1.0"/>
<text x="197.55" y="408.90" font-size="6.1" text-anchor="middle" font-weight="normal" fill="#333" stroke="#333" stroke-width="0.04" style="">6</text>
<line x1="219.90" y1="397.70" x2="219.90" y2="400.70" stroke="#1a1a1a" stroke-width="1.0"/>
<text x="219.90" y="408.90" font-size="6.1" text-anchor="middle" font-weight="normal" fill="#333" stroke="#333" stroke-width="0.04" style="">12</text>
<line x1="242.25" y1="397.70" x2="242.25" y2="400.70" stroke="#1a1a1a" stroke-width="1.0"/>
<text x="242.25" y="408.90" font-size="6.1" text-anchor="middle" font-weight="normal" fill="#333" stroke="#333" stroke-width="0.04" style="">18</text>
<line x1="264.60" y1="397.70" x2="264.60" y2="400.70" stroke="#1a1a1a" stroke-width="1.0"/>
<text x="264.60" y="408.90" font-size="6.1" text-anchor="middle" font-weight="normal" fill="#333" stroke="#333" stroke-width="0.04" style="">24</text>
<line x1="286.95" y1="397.70" x2="286.95" y2="400.70" stroke="#1a1a1a" stroke-width="1.0"/>
<text x="286.95" y="408.90" font-size="6.1" text-anchor="middle" font-weight="normal" fill="#333" stroke="#333" stroke-width="0.04" style="">30</text>
<line x1="309.30" y1="397.70" x2="309.30" y2="400.70" stroke="#1a1a1a" stroke-width="1.0"/>
<text x="309.30" y="408.90" font-size="6.1" text-anchor="middle" font-weight="normal" fill="#333" stroke="#333" stroke-width="0.04" style="">36</text>
<line x1="331.65" y1="397.70" x2="331.65" y2="400.70" stroke="#1a1a1a" stroke-width="1.0"/>
<text x="331.65" y="408.90" font-size="6.1" text-anchor="middle" font-weight="normal" fill="#333" stroke="#333" stroke-width="0.04" style="">42</text>
<line x1="354.00" y1="397.70" x2="354.00" y2="400.70" stroke="#1a1a1a" stroke-width="1.0"/>
<text x="354.00" y="408.90" font-size="6.1" text-anchor="middle" font-weight="normal" fill="#333" stroke="#333" stroke-width="0.04" style="">48</text>
<line x1="376.35" y1="397.70" x2="376.35" y2="400.70" stroke="#1a1a1a" stroke-width="1.0"/>
<text x="376.35" y="408.90" font-size="6.1" text-anchor="middle" font-weight="normal" fill="#333" stroke="#333" stroke-width="0.04" style="">54</text>
<text x="275.70" y="422.50" font-size="8.4" text-anchor="middle" font-weight="normal" fill="#2a2a2a" textLength="92.9" lengthAdjust="spacingAndGlyphs" stroke="#2a2a2a" stroke-width="0.22" style="">OS since 1st administration (months)</text>
<text x="0" y="0" font-size="7.2" text-anchor="middle" fill="#2a2a2a" stroke="#2a2a2a" stroke-width="0.22" textLength="47" lengthAdjust="spacingAndGlyphs" transform="translate(143.50,315.90) rotate(-90)">Survival probability</text>
<text x="156.20" y="387.00" font-size="6.1" text-anchor="middle" font-weight="normal" fill="#333" stroke="#333" stroke-width="0.04" style="">1</text>
<text x="175.20" y="387.00" font-size="6.3" text-anchor="middle" font-weight="normal" fill="#333" stroke="#333" stroke-width="0.04" style="">103</text>
<text x="197.55" y="387.00" font-size="6.3" text-anchor="middle" font-weight="normal" fill="#333" stroke="#333" stroke-width="0.04" style="">56</text>
<text x="219.90" y="387.00" font-size="6.3" text-anchor="middle" font-weight="normal" fill="#333" stroke="#333" stroke-width="0.04" style="">28</text>
<text x="242.25" y="387.00" font-size="6.3" text-anchor="middle" font-weight="normal" fill="#333" stroke="#333" stroke-width="0.04" style="">23</text>
<text x="264.60" y="387.00" font-size="6.3" text-anchor="middle" font-weight="normal" fill="#333" stroke="#333" stroke-width="0.04" style="">13</text>
<text x="286.95" y="387.00" font-size="6.3" text-anchor="middle" font-weight="normal" fill="#333" stroke="#333" stroke-width="0.04" style="">5</text>
<text x="309.30" y="387.00" font-size="6.3" text-anchor="middle" font-weight="normal" fill="#333" stroke="#333" stroke-width="0.04" style="">4</text>
<text x="331.65" y="387.00" font-size="6.3" text-anchor="middle" font-weight="normal" fill="#333" stroke="#333" stroke-width="0.04" style="">1</text>
<text x="354.00" y="387.00" font-size="6.3" text-anchor="middle" font-weight="normal" fill="#333" stroke="#333" stroke-width="0.04" style="">1</text>
<text x="376.35" y="387.00" font-size="6.3" text-anchor="middle" font-weight="normal" fill="#333" stroke="#333" stroke-width="0.04" style="">0</text>
<text x="156.20" y="395.00" font-size="6.1" text-anchor="middle" font-weight="normal" fill="#333" stroke="#333" stroke-width="0.04" style="">2</text>
<text x="175.20" y="395.00" font-size="6.3" text-anchor="middle" font-weight="normal" fill="#333" stroke="#333" stroke-width="0.04" style="">32</text>
<text x="197.55" y="395.00" font-size="6.3" text-anchor="middle" font-weight="normal" fill="#333" stroke="#333" stroke-width="0.04" style="">24</text>
<text x="219.90" y="395.00" font-size="6.3" text-anchor="middle" font-weight="normal" fill="#333" stroke="#333" stroke-width="0.04" style="">20</text>
<text x="242.25" y="395.00" font-size="6.3" text-anchor="middle" font-weight="normal" fill="#333" stroke="#333" stroke-width="0.04" style="">16</text>
<text x="264.60" y="395.00" font-size="6.3" text-anchor="middle" font-weight="normal" fill="#333" stroke="#333" stroke-width="0.04" style="">9</text>
<text x="286.95" y="395.00" font-size="6.3" text-anchor="middle" font-weight="normal" fill="#333" stroke="#333" stroke-width="0.04" style="">4</text>
<text x="309.30" y="395.00" font-size="6.3" text-anchor="middle" font-weight="normal" fill="#333" stroke="#333" stroke-width="0.04" style="">2</text>
<text x="331.65" y="395.00" font-size="6.3" text-anchor="middle" font-weight="normal" fill="#333" stroke="#333" stroke-width="0.04" style="">0</text>
<line x1="172.30" y1="355.40" x2="184.30" y2="355.40" stroke="#cc6f78" stroke-width="0.9"/>
<line x1="172.30" y1="364.90" x2="184.30" y2="364.90" stroke="#80a6ac" stroke-width="0.9"/>
<text x="187.90" y="357.40" font-size="5.9" text-anchor="start" font-weight="normal" fill="#2a2a2a" stroke="#2a2a2a" stroke-width="0.04" style="">1: De novo</text>
<text x="187.90" y="366.90" font-size="5.9" text-anchor="start" font-weight="normal" fill="#2a2a2a" textLength="61.9" lengthAdjust="spacingAndGlyphs" stroke="#2a2a2a" stroke-width="0.04" style="">2: Transformed indolent</text>
<rect x="137.20" y="429.50" width="246.10" height="34.80" fill="none" stroke="#555" stroke-width="1.1"/>
<text x="210.70" y="438.80" font-size="6.2" text-anchor="middle" font-weight="normal" fill="#2a2a2a" textLength="40" lengthAdjust="spacingAndGlyphs" stroke="#2a2a2a" stroke-width="0.04" style="">No. of subjects</text>
<text x="252.45" y="438.80" font-size="6.2" text-anchor="middle" font-weight="normal" fill="#2a2a2a" textLength="14" lengthAdjust="spacingAndGlyphs" stroke="#2a2a2a" stroke-width="0.04" style="">Event</text>
<text x="290.70" y="438.80" font-size="6.2" text-anchor="middle" font-weight="normal" fill="#2a2a2a" textLength="25.7" lengthAdjust="spacingAndGlyphs" stroke="#2a2a2a" stroke-width="0.04" style="">Censored</text>
<text x="345.45" y="438.80" font-size="6.2" text-anchor="middle" font-weight="normal" fill="#2a2a2a" textLength="66" lengthAdjust="spacingAndGlyphs" stroke="#2a2a2a" stroke-width="0.04" style="">Median survival (95% CI)</text>
<text x="141.95" y="448.70" font-size="6.2" text-anchor="start" font-weight="normal" fill="#2a2a2a" textLength="21" lengthAdjust="spacingAndGlyphs" stroke="#2a2a2a" stroke-width="0.04" style="">De novo</text>
<text x="210.70" y="448.70" font-size="6.2" text-anchor="middle" font-weight="normal" fill="#2a2a2a" textLength="10" lengthAdjust="spacingAndGlyphs" stroke="#2a2a2a" stroke-width="0.04" style="">103</text>
<text x="252.45" y="448.70" font-size="6.2" text-anchor="middle" font-weight="normal" fill="#2a2a2a" textLength="32.1" lengthAdjust="spacingAndGlyphs" stroke="#2a2a2a" stroke-width="0.04" style="">48.5 % (50)</text>
<text x="290.70" y="448.70" font-size="6.2" text-anchor="middle" font-weight="normal" fill="#2a2a2a" textLength="32" lengthAdjust="spacingAndGlyphs" stroke="#2a2a2a" stroke-width="0.04" style="">51.5 % (53)</text>
<text x="345.45" y="448.70" font-size="6.2" text-anchor="middle" font-weight="normal" fill="#2a2a2a" textLength="40" lengthAdjust="spacingAndGlyphs" stroke="#2a2a2a" stroke-width="0.04" style="">9.0 (6.5 ; 29.6)</text>
<text x="141.95" y="458.50" font-size="6.2" text-anchor="start" font-weight="normal" fill="#2a2a2a" textLength="54.25" lengthAdjust="spacingAndGlyphs" stroke="#2a2a2a" stroke-width="0.04" style="">Transformed indolent</text>
<text x="210.70" y="458.50" font-size="6.2" text-anchor="middle" font-weight="normal" fill="#2a2a2a" textLength="6.5" lengthAdjust="spacingAndGlyphs" stroke="#2a2a2a" stroke-width="0.04" style="">32</text>
<text x="252.45" y="458.50" font-size="6.2" text-anchor="middle" font-weight="normal" fill="#2a2a2a" textLength="32.1" lengthAdjust="spacingAndGlyphs" stroke="#2a2a2a" stroke-width="0.04" style="">31.3 % (10)</text>
<text x="290.70" y="458.50" font-size="6.2" text-anchor="middle" font-weight="normal" fill="#2a2a2a" textLength="32" lengthAdjust="spacingAndGlyphs" stroke="#2a2a2a" stroke-width="0.04" style="">68.8 % (22)</text>
<text x="345.45" y="458.50" font-size="6.2" text-anchor="middle" font-weight="normal" fill="#2a2a2a" textLength="64" lengthAdjust="spacingAndGlyphs" stroke="#2a2a2a" stroke-width="0.04" style="">Not reached (18.3 ; NA)</text>
<rect x="0.5" y="0.5" width="519" height="470" fill="none" stroke="#5a5a5a" stroke-width="1"/>
</svg>
</body></html>
